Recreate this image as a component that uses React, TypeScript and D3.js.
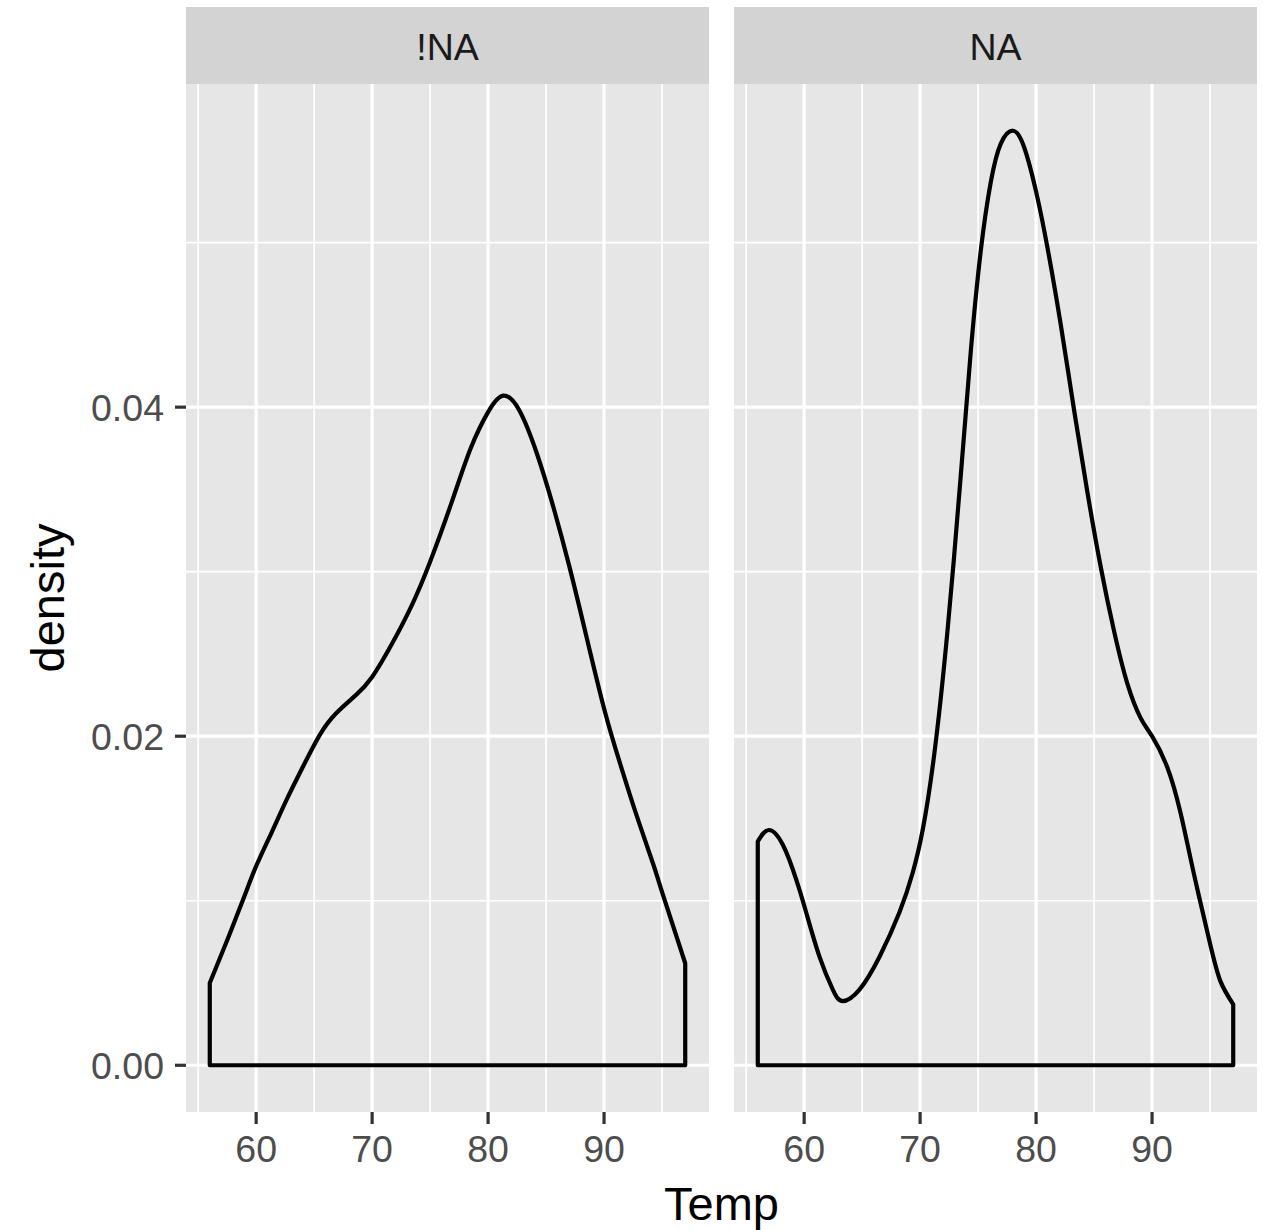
import React from "react";
import * as d3 from "d3";

const panels = ["!NA", "NA"];

const tempNotNA = [56, 57.5, 59, 60, 61.3, 62.6, 64, 65.5, 66.9, 68.6, 70, 71.7, 73.45, 75, 76.9, 78.5, 80, 81.3, 82.7, 84.2, 85.6, 87.05, 88.5, 90.07, 91.4, 92.8, 94.25, 95.06, 97];
const densityNotNA = [0.005, 0.0076, 0.0103, 0.0121, 0.0141, 0.0161, 0.0181, 0.0201, 0.0214, 0.0225, 0.0236, 0.0256, 0.028, 0.0306, 0.0343, 0.0375, 0.0397, 0.0407, 0.0398, 0.0372, 0.034, 0.0302, 0.026, 0.0215, 0.0183, 0.0152, 0.0122, 0.0104, 0.0062];

const tempNA = [56, 56.95, 58.16, 59.31, 60.17, 61.32, 62.47, 63.33, 64.77, 66.5, 68.22, 69.36, 70.22, 71.2, 72.36, 73.5, 74.37, 75.23, 76.1, 76.95, 78, 78.97, 80, 80.98, 82.13, 83.28, 84.43, 85.57, 86.72, 87.87, 89.02, 90, 91.32, 92.47, 93.62, 95, 95.9, 97];
const densityNA = [0.0136, 0.0143, 0.0134, 0.0113, 0.0093, 0.0066, 0.0046, 0.0039, 0.0046, 0.0066, 0.0093, 0.0117, 0.0143, 0.0188, 0.0264, 0.0358, 0.0434, 0.0495, 0.0537, 0.056, 0.0568, 0.0558, 0.0531, 0.0497, 0.045, 0.0398, 0.0348, 0.0303, 0.0264, 0.0232, 0.0211, 0.0200, 0.0181, 0.0153, 0.0116, 0.0074, 0.0051, 0.0037];

const xMajorTicks = [60, 70, 80, 90];
const xMinorTicks = [55, 65, 75, 85, 95];
const yMajorTicks = [0, 0.02, 0.04];
const yMinorTicks = [0.01, 0.03, 0.05];
const yTickLabels = ["0.00", "0.02", "0.04"];

const xTitle = "Temp";
const yTitle = "density";

export default function App() {
  const W = 1263, H = 1230;
  const panelTop = 84, panelBottom = 1112, stripTop = 7;
  const panelX = [[186, 709], [734, 1257]];
  const font = "'Liberation Sans', Arial, Helvetica, sans-serif";

  const series = [
    tempNotNA.map((t, i) => ({ t, d: densityNotNA[i] })),
    tempNA.map((t, i) => ({ t, d: densityNA[i] })),
  ];
  const allT = [...tempNotNA, ...tempNA];
  const tMin = d3.min(allT) as number, tMax = d3.max(allT) as number;
  const tPad = (tMax - tMin) * 0.05;
  const dMax = d3.max([...densityNotNA, ...densityNA]) as number;
  const y = d3.scaleLinear().domain([-dMax * 0.05, dMax * 1.05]).range([panelBottom, panelTop]);

  return (
    <div style={{ position: "absolute", left: 0, top: 0 }}>
      <svg width={W} height={H} style={{ display: "block", background: "#fff" }}>
        {panels.map((name, pi) => {
          const [x0, x1] = panelX[pi];
          const x = d3.scaleLinear().domain([tMin - tPad, tMax + tPad]).range([x0, x1]);
          const area = d3
            .area<{ t: number; d: number }>()
            .x((p) => x(p.t))
            .y0(y(0))
            .y1((p) => y(p.d))
            .curve(d3.curveNatural);
          return (
            <g key={name}>
              <rect x={x0} y={stripTop} width={x1 - x0} height={panelTop - stripTop} fill="#D3D3D3" />
              <text x={(x0 + x1) / 2} y={59.5} textAnchor="middle" fontFamily={font} fontSize={37.5} fill="#1a1a1a">{name}</text>
              <rect x={x0} y={panelTop} width={x1 - x0} height={panelBottom - panelTop} fill="#E6E6E6" />
              {xMinorTicks.map((t) => (
                <line key={"xm" + t} x1={x(t)} x2={x(t)} y1={panelTop} y2={panelBottom} stroke="#fff" strokeWidth={1.7} />
              ))}
              {yMinorTicks.map((v) => (
                <line key={"ym" + v} x1={x0} x2={x1} y1={y(v)} y2={y(v)} stroke="#fff" strokeWidth={1.7} />
              ))}
              {xMajorTicks.map((t) => (
                <line key={"xM" + t} x1={x(t)} x2={x(t)} y1={panelTop} y2={panelBottom} stroke="#fff" strokeWidth={3.2} />
              ))}
              {yMajorTicks.map((v) => (
                <line key={"yM" + v} x1={x0} x2={x1} y1={y(v)} y2={y(v)} stroke="#fff" strokeWidth={3.2} />
              ))}
              <path d={area(series[pi]) || ""} fill="none" stroke="#000" strokeWidth={4.2} strokeLinejoin="round" />
              {xMajorTicks.map((t) => (
                <g key={"xt" + t}>
                  <line x1={x(t)} x2={x(t)} y1={panelBottom} y2={panelBottom + 12} stroke="#333" strokeWidth={3.2} />
                  <text x={x(t)} y={1162} textAnchor="middle" fontFamily={font} fontSize={37.5} fill="#4d4d4d">{t}</text>
                </g>
              ))}
            </g>
          );
        })}
        {yMajorTicks.map((v, i) => (
          <g key={"yt" + v}>
            <line x1={panelX[0][0] - 11} x2={panelX[0][0]} y1={y(v)} y2={y(v)} stroke="#333" strokeWidth={3.2} />
            <text x={164} y={y(v) + 14} textAnchor="end" fontFamily={font} fontSize={37.5} fill="#4d4d4d">{yTickLabels[i]}</text>
          </g>
        ))}
        <text x={(panelX[0][0] + panelX[1][1]) / 2} y={1220} textAnchor="middle" fontFamily={font} fontSize={47} fill="#000">{xTitle}</text>
        <text transform={`translate(64, ${(panelTop + panelBottom) / 2}) rotate(-90)`} textAnchor="middle" fontFamily={font} fontSize={47} fill="#000">{yTitle}</text>
      </svg>
    </div>
  );
}
